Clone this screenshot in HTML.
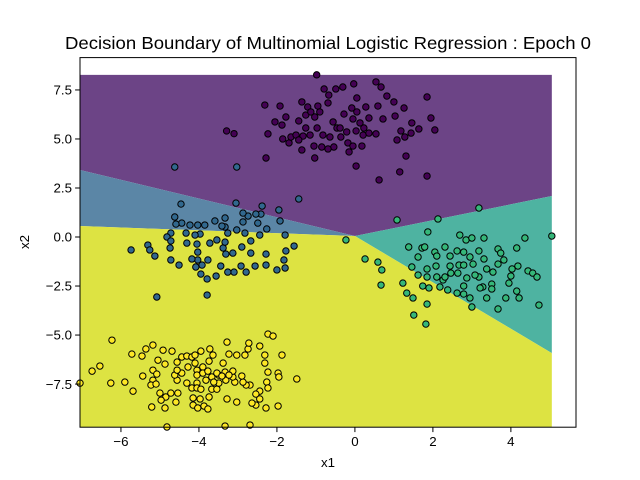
<!DOCTYPE html>
<html><head><meta charset="utf-8"><style>
body{margin:0;background:#fff;}
svg{display:block;font-family:"Liberation Sans",sans-serif;}
</style></head><body>
<svg id="chart" width="640" height="480">
<text x="328" y="49" text-anchor="middle" font-size="17.5" textLength="526" lengthAdjust="spacingAndGlyphs">Decision Boundary of Multinomial Logistic Regression : Epoch 0</text>
<g id="regions"></g>
<g id="points"></g>
<rect x="80" y="57.6" width="496" height="369.6" fill="none" stroke="#000" stroke-width="1"/>
<g id="axes"></g>
<text x="328" y="467" text-anchor="middle" font-size="13.3">x1</text>
<text x="29" y="242" text-anchor="middle" font-size="13.3" transform="rotate(-90 29 242)">x2</text>
</svg>
<script>
const xTicks=[-6,-4,-2,0,2,4];
const yTicks=[-7.5,-5.0,-2.5,0.0,2.5,5.0,7.5];
const gridX=[-7.05,5.05];
const gridY=[-9.7,8.27];
const triple=[0.0,0.05];
const bPurpleBlue=3.42, bPurpleTeal=2.09, bYellowBlue=0.56, bYellowTeal=-5.92;
const regionColors=["#6c4486","#5b86a6","#4eb3a1","#dde342"];
const pointColors=["#440154","#31688e","#35b779","#fde725"];
const purplePts=[[-0.98,8.27],[-3.29,5.41],[-3.10,5.27],[-2.31,6.73],[-1.92,6.68],[-2.23,5.26],[-2.28,4.03],[-2.05,5.87],[-1.87,5.71],[-1.77,6.12],[-1.85,5.0],[-1.69,4.8],[-1.64,5.1],[-1.44,5.92],[-1.36,6.89],[-1.36,4.44],[-1.03,4.03],[-1.05,4.64],[-0.79,7.55],[-0.49,7.55],[-0.31,7.65],[-0.03,7.81],[0.54,7.91],[0.67,7.65],[0.82,7.19],[1.0,6.89],[1.85,7.14],[1.95,6.07],[2.05,5.46],[1.64,5.51],[1.46,5.82],[1.26,6.58],[1.03,6.17],[1.18,5.41],[1.08,4.95],[1.31,4.13],[1.15,3.32],[1.85,3.11],[0.62,2.91],[0.03,3.62],[0.18,4.64],[-0.15,4.34],[0.72,6.02],[0.59,6.68],[0.28,6.63],[0.05,7.09],[0.36,6.07],[0.54,5.26],[0.23,5.56],[0.03,5.41],[-0.05,6.02],[-0.08,6.58],[-0.28,6.27],[-0.56,5.87],[-0.46,5.56],[-0.36,5.1],[-0.64,5.1],[-0.54,4.59],[-0.82,5.2],[-0.85,4.59],[-0.69,4.49],[-0.97,5.56],[-1.03,6.12],[-0.95,6.68],[-0.69,6.84],[-0.67,7.24],[-1.21,6.63],[-1.26,6.22],[-1.13,6.38],[-1.26,5.56],[-1.15,5.2],[-1.33,5.15],[-1.51,5.2],[-1.44,4.95],[-0.9,6.38],[0.05,6.38],[0.13,5.82],[0.21,5.2],[0.36,5.3],[-0.21,5.36],[-0.18,4.8],[-0.05,4.64],[-0.38,5.56],[1.28,5.1],[1.44,5.3]];
const bluePts=[[-5.74,-0.66],[-5.08,-3.06],[-3.79,-2.96],[-4.46,1.68],[-3.05,1.73],[-2.38,1.58],[-1.44,1.94],[-1.95,1.38],[-1.92,0.82],[-1.79,0.1],[-1.56,-0.46],[-1.77,-0.71],[-1.82,-1.17],[-1.79,-1.58],[-2.0,-1.68],[-2.28,-0.87],[-2.28,-1.43],[-2.56,-1.48],[-2.67,-0.82],[-2.67,-0.2],[-2.44,0.1],[-2.26,0.41],[-2.49,0.71],[-2.41,1.17],[-2.54,1.17],[-2.74,1.07],[-2.87,1.22],[-2.87,0.77],[-3.03,0.36],[-2.82,0.2],[-2.9,-0.51],[-2.79,-1.79],[-2.92,-1.48],[-3.1,-1.79],[-3.26,-1.79],[-3.13,-0.82],[-3.31,-0.87],[-3.38,-0.56],[-3.33,-0.26],[-3.26,0.2],[-3.33,0.51],[-3.41,0.56],[-3.33,0.97],[-3.59,0.82],[-3.54,-0.15],[-3.72,-0.31],[-3.44,-1.48],[-3.56,-1.99],[-3.79,-2.14],[-3.95,-1.89],[-3.77,-1.17],[-3.92,-1.43],[-4.08,-1.53],[-4.03,-1.17],[-4.18,-1.12],[-4.03,-0.77],[-4.05,-0.36],[-3.97,0.15],[-4.1,0.1],[-4.31,-0.31],[-4.33,0.2],[-4.23,0.61],[-4.03,0.61],[-3.85,0.61],[-4.44,0.71],[-4.59,0.66],[-4.62,1.02],[-4.72,0.2],[-4.82,0],[-4.72,-0.2],[-4.74,-0.56],[-4.72,-1.17],[-4.51,-1.43],[-5.13,-0.97],[-5.31,-0.41],[-5.26,-0.66],[-4.62,3.57],[-3.03,3.57]];
const tealPts=[[-0.23,-0.15],[1.08,0.87],[2.13,0.92],[3.18,1.48],[5.05,0.05],[1.87,0.26],[0.26,-1.12],[0.59,-1.28],[0.69,-1.68],[0.67,-2.45],[1.23,-2.35],[1.33,-2.86],[1.49,-3.11],[1.85,-3.42],[1.51,-3.98],[1.82,-4.44],[3.0,-3.57],[3.67,-3.67],[4.72,-3.47],[4.21,-3.11],[4.15,-2.76],[3.87,-3.11],[3.38,-3.11],[2.95,-3.11],[2.62,-2.86],[2.79,-2.91],[1.74,-2.5],[1.9,-2.6],[2.18,-2.55],[2.38,-2.7],[2.26,-2.19],[1.85,-2.04],[1.62,-1.94],[1.46,-1.53],[1.62,-1.02],[1.38,-0.51],[1.72,-0.56],[1.79,-0.51],[2.05,-0.77],[2.1,-0.97],[2.31,-0.51],[2.44,-0.97],[2.62,-0.71],[2.69,0.1],[2.85,-0.15],[3.0,-0.05],[3.31,-0.05],[2.79,-0.77],[2.95,-1.02],[3.18,-0.71],[3.31,-1.12],[3.67,-0.61],[3.74,-0.82],[3.82,-1.17],[3.67,-1.38],[4.15,-0.56],[4.36,-0.05],[4.18,-1.48],[4.03,-1.63],[4.0,-1.99],[3.95,-2.35],[4.44,-1.73],[4.56,-1.84],[4.67,-2.04],[3.54,-1.79],[3.38,-1.63],[3.18,-2.04],[3.08,-1.94],[2.87,-2.09],[2.64,-1.84],[2.46,-1.84],[2.31,-2.04],[2.1,-2.04],[2.08,-1.48],[1.85,-1.63],[2.44,-1.48],[2.67,-1.43],[2.79,-1.43],[3.03,-1.38],[3.51,-2.4],[3.28,-2.55],[3.21,-2.6],[2.79,-2.5],[3.51,-2.65]];
const yellowPts=[[-7.05,-7.45],[-6.74,-6.84],[-6.54,-6.58],[-6.23,-5.26],[-6.26,-7.45],[-5.9,-7.4],[-5.69,-7.86],[-5.72,-5.97],[-5.46,-6.07],[-5.36,-5.71],[-5.18,-5.51],[-4.92,-5.77],[-4.69,-5.82],[-5.05,-6.28],[-4.87,-6.48],[-5.18,-6.79],[-5.44,-7.09],[-5.08,-6.99],[-5.18,-7.3],[-5.23,-7.55],[-5.1,-7.5],[-5.21,-8.67],[-4.87,-8.72],[-5.0,-7.96],[-4.85,-8.16],[-4.72,-7.96],[-4.54,-7.96],[-4.59,-8.42],[-4.97,-8.32],[-4.56,-7.3],[-4.62,-7.04],[-4.44,-6.94],[-4.56,-6.79],[-4.56,-6.38],[-4.44,-6.12],[-4.31,-6.07],[-4.18,-6.12],[-4.28,-6.63],[-4.1,-6.43],[-4.1,-6.02],[-3.95,-5.82],[-3.72,-5.71],[-3.64,-6.02],[-3.74,-6.33],[-3.9,-6.63],[-4.05,-6.79],[-4.05,-7.04],[-3.9,-6.94],[-3.77,-6.84],[-3.67,-7.14],[-3.82,-7.3],[-4.05,-7.45],[-4.31,-7.45],[-4.18,-7.7],[-4.05,-7.7],[-3.95,-7.76],[-4.15,-8.21],[-3.97,-8.26],[-4.15,-8.57],[-4.03,-8.72],[-3.87,-8.62],[-3.77,-8.77],[-3.74,-8.16],[-3.67,-7.76],[-3.54,-7.76],[-3.49,-7.04],[-3.49,-7.45],[-3.54,-6.94],[-3.31,-7.3],[-3.33,-6.89],[-3.38,-6.43],[-3.28,-5.36],[-3.23,-5.97],[-3.03,-6.02],[-2.82,-6.02],[-2.74,-5.71],[-2.72,-5.41],[-2.44,-5.56],[-2.23,-4.95],[-2.1,-5.05],[-2.31,-6.02],[-1.87,-6.02],[-2.31,-6.43],[-2.23,-6.89],[-1.97,-6.94],[-1.95,-7.14],[-1.49,-7.24],[-2.26,-7.4],[-2.23,-7.7],[-2.44,-7.86],[-2.54,-8.01],[-2.44,-8.26],[-2.54,-8.57],[-2.64,-8.47],[-2.28,-8.72],[-1.97,-8.62],[-2.69,-7.55],[-2.79,-7.55],[-2.87,-7.4],[-3.08,-7.4],[-3.03,-8.42],[-3.28,-8.26],[-3.13,-7.14],[-2.9,-7.09],[-3.13,-6.84],[-3.23,-7.04],[-3.41,-7.09],[-3.62,-7.4],[-4.82,-9.69],[-3.33,-9.64],[-2.69,-9.59]];

const NS="http://www.w3.org/2000/svg";
const xMin=-7.05,xMax=5.67,yMin=-9.70,yMax=9.15;
const L=80,R=576,T=57.6,B=427.2;
function sx(v){return L+(v-xMin)/(xMax-xMin)*(R-L);}
function sy(v){return B-(v-yMin)/(yMax-yMin)*(B-T);}
function poly(pts,color,name){
  const p=document.createElementNS(NS,'polygon');
  p.setAttribute('points',pts.map(q=>sx(q[0])+','+sy(q[1])).join(' '));
  p.setAttribute('fill',color);
  
  
  document.getElementById('regions').appendChild(p);
}
const x0=gridX[0],x1=gridX[1],y0=gridY[0],y1=gridY[1];
poly([[x0,y1],[x1,y1],[x1,bPurpleTeal],[triple[0],triple[1]],[x0,bPurpleBlue]],regionColors[0],'region-class-0');
poly([[x0,bPurpleBlue],[triple[0],triple[1]],[x0,bYellowBlue]],regionColors[1],'region-class-1');
poly([[x1,bPurpleTeal],[x1,bYellowTeal],[triple[0],triple[1]]],regionColors[2],'region-class-2');
poly([[x0,bYellowBlue],[triple[0],triple[1]],[x1,bYellowTeal],[x1,y0],[x0,y0]],regionColors[3],'region-class-3');

const gp=document.getElementById('points');
[purplePts,bluePts,tealPts,yellowPts].forEach((arr,k)=>{
  arr.forEach(d=>{
    const c=document.createElementNS(NS,'circle');
    c.setAttribute('cx',sx(d[0]));c.setAttribute('cy',sy(d[1]));
    c.setAttribute('r',3.2);c.setAttribute('fill',pointColors[k]);
    c.setAttribute('stroke','#000');c.setAttribute('stroke-width','1');
    
    
    gp.appendChild(c);
  });
});
const ax=document.getElementById('axes');
xTicks.forEach(v=>{
  const X=sx(v);
  const l=document.createElementNS(NS,'line');
  l.setAttribute('x1',X);l.setAttribute('x2',X);l.setAttribute('y1',B);l.setAttribute('y2',B+4.9);l.setAttribute('stroke','#000');
  
  
  ax.appendChild(l);
  const t=document.createElementNS(NS,'text');
  t.setAttribute('x',X);t.setAttribute('y',B+19);t.setAttribute('text-anchor','middle');t.setAttribute('font-size','13.3');
  t.textContent=(v<0?'\u2212'+(-v):String(v));
  
  
  ax.appendChild(t);
});
yTicks.forEach(v=>{
  const Y=sy(v);
  const l=document.createElementNS(NS,'line');
  l.setAttribute('x1',L-4.9);l.setAttribute('x2',L);l.setAttribute('y1',Y);l.setAttribute('y2',Y);l.setAttribute('stroke','#000');
  
  
  ax.appendChild(l);
  const t=document.createElementNS(NS,'text');
  t.setAttribute('x',L-8);t.setAttribute('y',Y+4.7);t.setAttribute('text-anchor','end');t.setAttribute('font-size','13.3');
  t.textContent=(v<0?'\u2212'+(-v).toFixed(1):v.toFixed(1));
  
  
  ax.appendChild(t);
});
</script>
</body></html>
